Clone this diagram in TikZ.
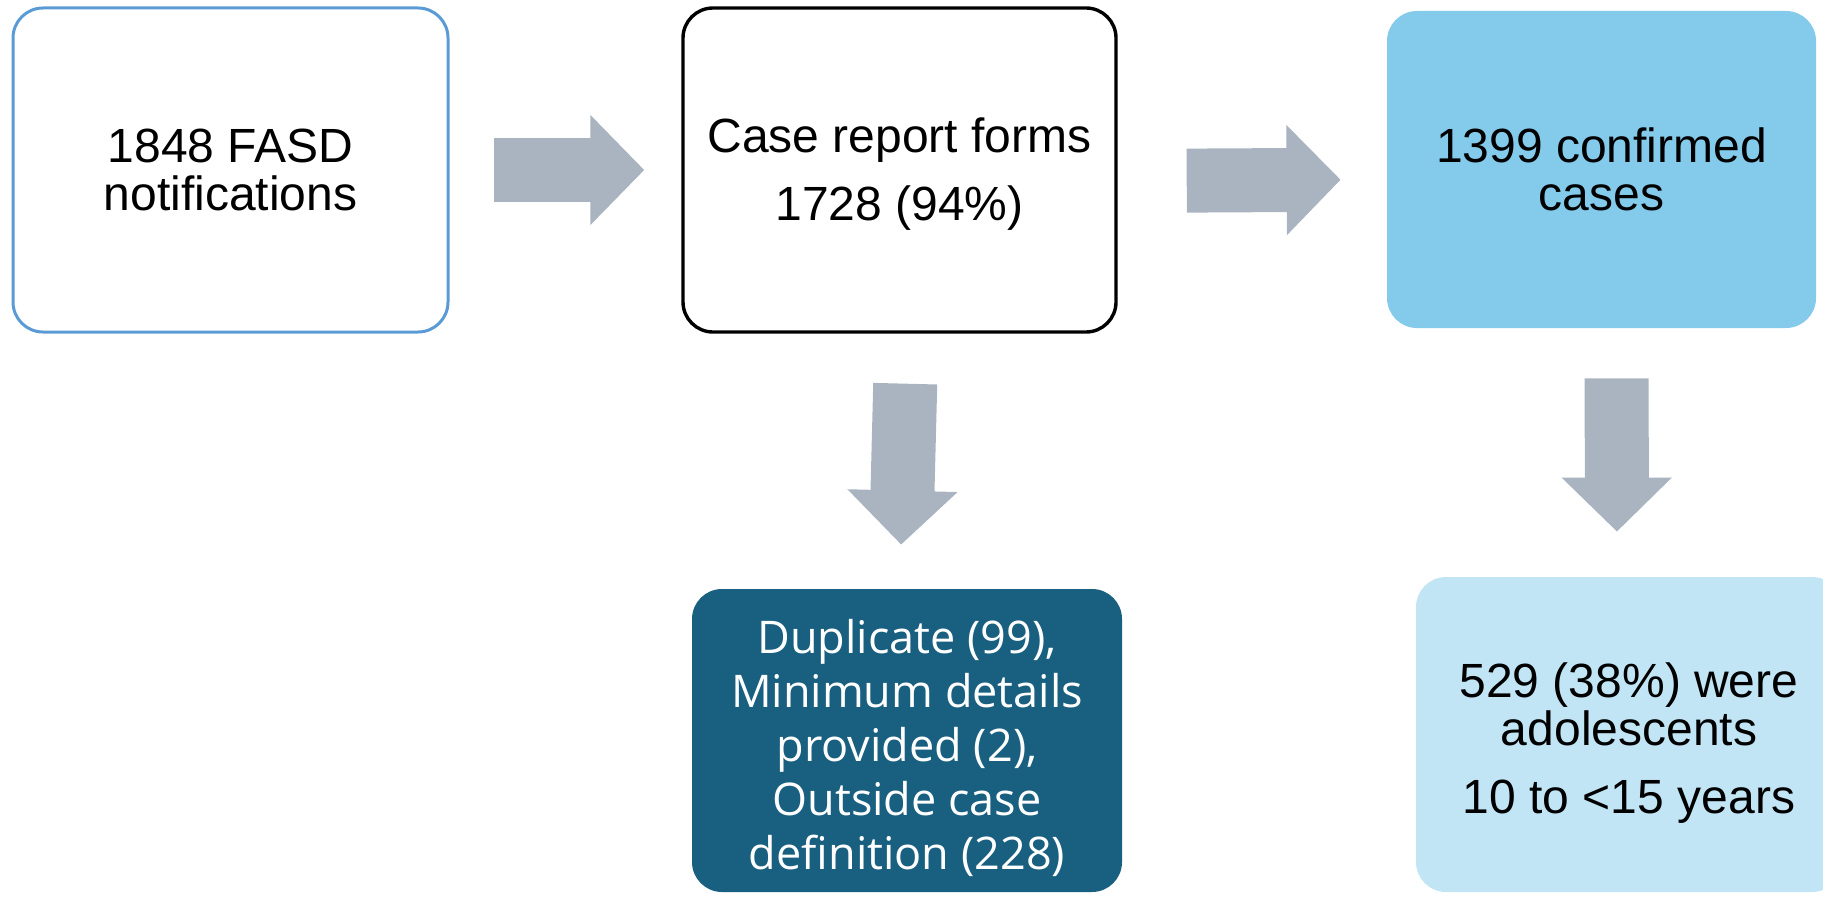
\documentclass[tikz,border=0pt]{standalone}
\usepackage{fontspec}
\setmainfont{Liberation Sans}
\newfontfamily\notefont{Open Sans}
\usepackage{xcolor}
\usetikzlibrary{
	arrows.meta,
	calc
}
\definecolor{arrowgrey}{HTML}{A9B4C0}
\definecolor{edgeblue}{HTML}{5B9BD5}
\definecolor{skyfill}{HTML}{83CAEB}
\definecolor{tealfill}{HTML}{185F80}
\definecolor{palefill}{HTML}{C1E5F5}

\begin{document}
\begin{tikzpicture}[
		x=0.5pt, y=-0.5pt,
		stage/.style={
			rounded corners=15pt,
			inner sep=0pt,
			align=center,
			font=\fontsize{24}{24}\selectfont
		},
		flow/.style={
			arrowgrey,
			line width=32pt,
			-{Triangle[length=27pt,width=53.5pt]}
		}
		]
		\useasboundingbox (0,0) rectangle (1823,899);
		\clip (0,0) rectangle (1823,899);
		
		% Notifications
		\node[stage, draw=edgeblue, line width=1.5pt, minimum width=217.5pt, minimum height=162pt] (notif) at (230.5,170) {1848 FASD\\notifications};
		
		% Case report forms
		\node[stage, draw=black, line width=1.7pt, minimum width=216.5pt, minimum height=162pt] (forms) at (899.5,170) {\rule{0pt}{21pt}Case report forms\\[10pt]1728 (94\%)};
		
		% Confirmed
		\node[stage, fill=skyfill, minimum width=214.5pt, minimum height=158.5pt] (confirmed) at (1601.5,169.5) {1399 confirmed\\cases};
		
		% Excluded
		\node[stage, fill=tealfill, text=white, minimum width=215pt, minimum height=151.5pt, font=\notefont\fontsize{22.5}{27}\selectfont] (dup) at (907,740.5) {\rule{0pt}{25pt}Duplicate (99),\\Minimum details\\provided (2),\\Outside case\\definition (228)};
		
		% Adolescents
		\node[stage, fill=palefill, minimum width=213pt, minimum height=157.5pt] (adol) at (1629,734.5) {\rule{0pt}{26pt}529 (38\%) were\\adolescents\\[10pt]10 to <15 years};
		
		\draw[flow, shorten <=22pt, shorten >=18.5pt] (notif.east) -- (forms.west);
		\draw[flow, shorten <=34.5pt, shorten >=23pt] ($(forms.east)+(0,11)$) -- ($(confirmed.west)+(0,10)$);
		\draw[flow, shorten <=25pt, shorten >=22pt] ($(forms.south)+(7,0)$) -- ($(dup.north)+(-7,0)$);
		\draw[flow, shorten <=25pt, shorten >=22.5pt] ($(confirmed.south)+(15,0)$) -- ($(adol.north)+(-12,0)$);
		
	\end{tikzpicture}
\end{document}
